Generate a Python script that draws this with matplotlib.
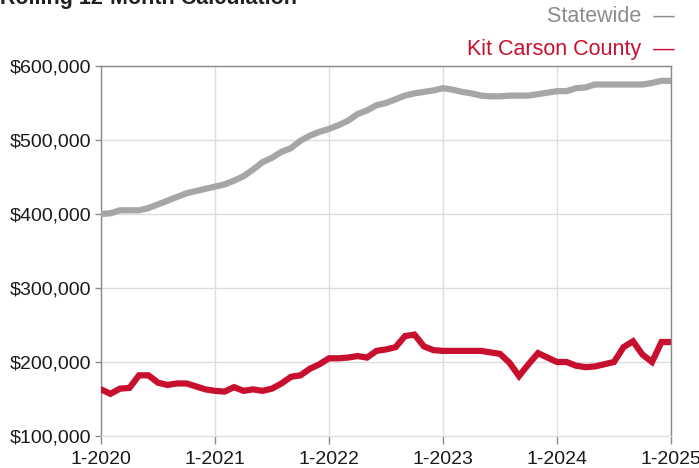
import matplotlib.pyplot as plt

plt.rcParams["font.family"] = ["Liberation Sans", "DejaVu Sans"]

# monthly points, 1-2020 through 1-2025
months = list(range(61))
year_ticks = [0, 12, 24, 36, 48, 60]
year_labels = ["1-2020", "1-2021", "1-2022", "1-2023", "1-2024", "1-2025"]

statewide = [
    400000, 401000, 405000, 405000, 405000, 408000, 413000, 418000, 423000, 428000,
    431000, 434000, 437000, 440000, 445000, 451000, 460000, 470000, 476000, 484000,
    489000, 499000, 506000, 511000, 515000, 520000, 526000, 535000, 540000, 547000,
    550000, 555000, 560000, 563000, 565000, 567000, 570000, 568000, 565000, 563000,
    560000, 559000, 559000, 560000, 560000, 560000, 562000, 564000, 566000, 566000,
    570000, 571000, 575000, 575000, 575000, 575000, 575000, 575000, 577000, 580000,
    580000,
]

kit_carson = [
    163000, 157000, 164000, 165000, 182000, 182000, 172000, 169000, 171000, 171000,
    167000, 163000, 161000, 160000, 166000, 161000, 163000, 161000, 164000, 171000,
    180000, 182000, 191000, 197000, 205000, 205000, 206000, 208000, 206000, 215000,
    217000, 220000, 235000, 237000, 221000, 216000, 215000, 215000, 215000, 215000,
    215000, 213000, 211000, 199000, 181000, 197000, 212000, 206000, 200000, 200000,
    195000, 193000, 194000, 197000, 200000, 220000, 228000, 210000, 200000, 227000,
    227000,
]

y_ticks = [100000, 200000, 300000, 400000, 500000, 600000]

gray = "#a6a6a6"
red = "#c8102e"

fig = plt.figure(figsize=(6.99, 4.68), dpi=100)
ax = fig.add_axes([101 / 699, 1 - 436 / 468, 570 / 699, 370 / 468])

ax.plot(months, statewide, color=gray, lw=4.5, solid_joinstyle="miter", zorder=3)
ax.plot(months, kit_carson, color=red, lw=4.5, solid_joinstyle="miter", zorder=3)

ax.set_xlim(0, 60)
ax.set_ylim(100000, 600000)
ax.set_xticks(year_ticks)
ax.set_xticklabels(year_labels)
ax.set_yticks(y_ticks)
ax.set_yticklabels(["${:,.0f}".format(v) for v in y_ticks])

ax.grid(True, color="#dddddd", lw=1)
ax.set_axisbelow(True)

for side in ["top", "left", "right"]:
    ax.spines[side].set_color("#8a8a8a")
    ax.spines[side].set_linewidth(1)
ax.spines["bottom"].set_color("#dddddd")

ax.tick_params(axis="both", colors="#8a8a8a", labelcolor="#1a1a1a", labelsize=14, width=1)
ax.tick_params(axis="x", length=6, pad=5)
ax.tick_params(axis="y", length=4, pad=3)

fig.text(0.0, 1 - 4 / 468, "Rolling 12-Month Calculation", fontsize=15.5,
         fontweight="bold", ha="left", va="baseline", color="#222222")
fig.text(675 / 699, 1 - 17 / 468, "Statewide  \u2014", fontsize=15.5,
         color="#8c8c8c", ha="right", va="center")
fig.text(675 / 699, 1 - 49 / 468, "Kit Carson County  \u2014", fontsize=15.5,
         color=red, ha="right", va="center")

fig.savefig("out.png", dpi=100)
